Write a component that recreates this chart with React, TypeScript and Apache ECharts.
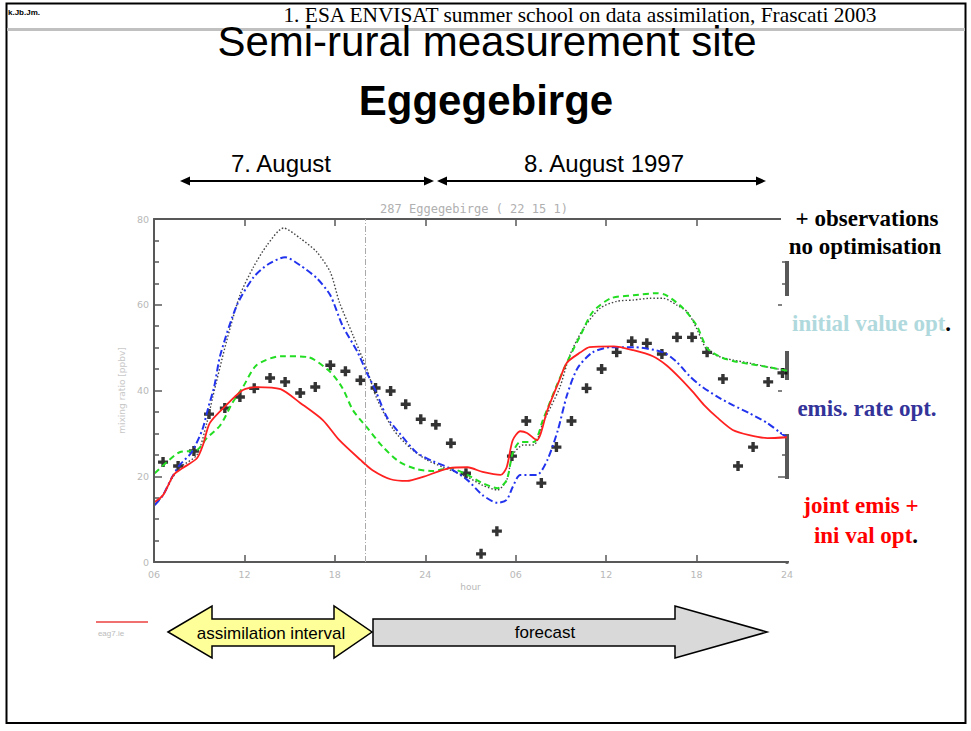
import React, { useEffect, useRef } from "react";
import * as echarts from "echarts";

// ---------- data ----------
const hourLabels = ["06", "12", "18", "24", "06", "12", "18", "24"];
const hourMin = 6;
const hourMax = 48;
const valueMin = 0;
const valueMax = 80;
const assimilationEnd = 20;

const obsHours = [6.6, 7.6, 8.65, 9.65, 10.7, 11.7, 12.65, 13.7, 14.7, 15.7, 16.7, 17.7, 18.7, 19.7, 20.7, 21.7, 22.7, 23.7, 24.7, 25.7, 26.7, 27.7, 28.75, 29.75, 30.7, 31.7, 32.7, 33.7, 34.7, 35.7, 36.7, 37.7, 38.7, 39.7, 40.7, 41.7, 42.7, 43.75, 44.75, 45.75, 46.75, 47.7];
const obsValues = [23.3, 22.4, 25.9, 34.5, 35.9, 38.5, 40.5, 42.9, 42.0, 39.4, 40.8, 45.9, 44.5, 42.4, 40.6, 39.9, 36.8, 33.3, 32.0, 27.7, 20.7, 1.9, 7.2, 24.7, 32.9, 18.4, 26.8, 32.9, 40.5, 45.0, 48.9, 51.5, 51.0, 48.5, 52.4, 52.4, 48.9, 42.7, 22.4, 26.8, 42.0, 44.1];

const noOptHours = [6.05, 6.6, 7.2, 7.7, 8.85, 9.5, 9.9, 10.8, 11.7, 12.6, 13.5, 14.6, 15.7, 16.8, 17.7, 18.3, 19.2, 20.1, 20.8, 21.9, 23.0, 24.1, 25.2, 26.8, 27.8, 28.8, 29.4, 29.8, 30.5, 31.2, 31.8, 32.9, 33.6, 34.5, 35.6, 36.7, 37.8, 38.9, 39.8, 40.7, 41.4, 42.0, 42.7, 43.6, 44.4, 45.5, 46.7, 48];
const noOptValues = [13.3, 15.6, 19.5, 22.0, 25.0, 32.4, 38.5, 51.3, 62.2, 68.8, 73.9, 77.9, 75.5, 72.3, 67.6, 60.6, 52.9, 45.2, 38.0, 30.8, 26.6, 23.8, 22.1, 19.8, 17.9, 16.8, 19.1, 24.9, 27.3, 27.3, 32.4, 40.5, 48.3, 54.5, 59.2, 60.8, 61.1, 61.5, 61.5, 59.9, 58.3, 54.5, 49.4, 47.8, 47.1, 46.4, 45.5, 44.6];

const iniHours = [6.05, 6.85, 7.7, 8.85, 9.5, 10.4, 11.2, 11.9, 12.8, 14.4, 16.2, 17.7, 18.5, 19.2, 20.1, 21.2, 22.3, 23.4, 24.5, 25.6, 26.8, 27.8, 28.8, 29.4, 29.8, 30.3, 31.2, 31.8, 32.7, 33.4, 34.3, 35.1, 36.3, 37.8, 39.4, 40.0, 41.1, 42.0, 42.7, 43.6, 44.4, 45.5, 46.7, 48];
const iniValues = [20.7, 23.3, 25.6, 26.1, 28.9, 31.9, 37.1, 40.8, 45.9, 48.0, 47.8, 44.3, 40.6, 35.4, 31.5, 26.8, 23.3, 21.7, 21.2, 21.9, 20.3, 18.4, 17.2, 19.1, 25.4, 28.0, 28.0, 33.1, 41.0, 46.6, 52.9, 58.3, 61.5, 62.2, 62.7, 62.2, 59.2, 55.2, 49.9, 47.8, 46.9, 46.2, 45.5, 44.6];

const emisHours = [6.05, 6.6, 7.2, 7.7, 8.5, 9.2, 9.6, 10.0, 10.4, 11.5, 12.6, 13.6, 14.7, 15.7, 16.8, 17.7, 18.5, 19.5, 20.1, 20.7, 21.45, 22.3, 23.4, 24.5, 25.6, 26.8, 27.8, 28.8, 29.4, 29.8, 30.3, 31.4, 32.1, 32.8, 33.4, 34.1, 35.1, 36.3, 37.8, 39.8, 40.7, 41.5, 42.2, 43.4, 44.4, 45.5, 46.7, 47.5, 48];
const emisValues = [13.3, 15.6, 19.8, 22.6, 25.6, 30.8, 36.0, 41.0, 48.3, 59.9, 66.4, 69.5, 71.1, 69.2, 66.2, 62.2, 55.2, 49.0, 44.3, 40.0, 33.8, 30.0, 25.6, 23.5, 21.9, 19.1, 15.6, 13.8, 14.5, 17.5, 20.3, 20.3, 23.8, 30.8, 38.9, 45.2, 48.9, 50.1, 50.1, 48.9, 46.6, 43.5, 41.3, 38.5, 36.6, 34.7, 32.4, 30.3, 29.1];

const jointHours = [6.05, 6.6, 7.3, 7.9, 8.85, 9.25, 9.7, 10.8, 11.9, 12.8, 14.4, 15.7, 17.2, 18.3, 19.7, 20.5, 21.7, 22.8, 23.8, 25.6, 26.8, 27.8, 29.0, 29.4, 29.8, 30.3, 30.75, 31.4, 32.1, 32.9, 33.4, 34.3, 34.9, 36.5, 37.8, 39.1, 40.0, 40.9, 41.8, 42.5, 43.4, 44.4, 45.5, 46.7, 48];
const jointValues = [14.0, 15.6, 20.3, 21.9, 24.2, 27.3, 32.4, 36.6, 40.1, 40.8, 40.3, 37.1, 33.1, 28.4, 23.8, 21.4, 19.3, 18.9, 19.8, 21.9, 22.1, 21.0, 20.3, 22.1, 28.4, 30.5, 30.1, 28.4, 35.4, 42.4, 46.5, 48.9, 50.1, 50.3, 49.4, 48.0, 45.9, 42.9, 39.5, 36.6, 33.6, 30.8, 29.6, 28.9, 29.1];

const zip = (h: number[], v: number[]) => h.map((x, i) => [x, v[i]]);

const SERIF = "'Liberation Serif', 'Times New Roman', serif";
const SANS = "'Liberation Sans', Arial, sans-serif";
const PLUS = "path://M3.3,0 L6.7,0 L6.7,3.3 L10,3.3 L10,6.7 L6.7,6.7 L6.7,10 L3.3,10 L3.3,6.7 L0,6.7 L0,3.3 L3.3,3.3 Z";
const AXIS_COLOR = "#585858";

function txt(text: string, x: number, y: number, font: string, fill: string, align = "center", extra: any = {}) {
  return {
    type: "text",
    z: 100,
    style: {
      text, x, y, font, fill,
      align, verticalAlign: "middle",
      textAlign: align, textVerticalAlign: "middle",
      ...extra,
    },
  };
}

function whiteRect(x: number, y: number, w: number, h: number) {
  return { type: "rect", z: 90, shape: { x, y, width: w, height: h }, style: { fill: "#fff" } };
}

const mkLine = (width = 2) => ({ show: true, onZero: false, lineStyle: { color: AXIS_COLOR, width } });
const mkTick = (length: number) => ({ show: true, inside: true, length, lineStyle: { color: AXIS_COLOR, width: 1.5 } });
const mkMinor = () => ({ show: true, splitNumber: 4, length: 5, lineStyle: { color: AXIS_COLOR, width: 1.5 } });

export default function App() {
  const ref = useRef<HTMLDivElement>(null);
  useEffect(() => {
    document.body.style.margin = "0";
    const chart = echarts.init(ref.current!, null, { renderer: "svg" });
    const lblColor = "#b8b8b8";
    const legendFont = `bold 23px ${SERIF}`;
    chart.setOption({
      animation: false,
      backgroundColor: "#fff",
      grid: { left: 154, top: 219, width: 633, height: 343 },
      xAxis: [
        {
          type: "value", min: hourMin, max: hourMax, interval: 6, position: "bottom",
          axisLine: mkLine(), axisTick: mkTick(7),
          axisLabel: { color: lblColor, fontSize: 9.5, margin: 7, fontFamily: "DejaVu Sans",
            formatter: (v: number) => hourLabels[Math.round((v - 6) / 6)] ?? "" },
          splitLine: { show: false },
          name: "hour", nameLocation: "middle", nameGap: 20,
          nameTextStyle: { color: lblColor, fontSize: 9, fontFamily: "DejaVu Sans" },
        },
        {
          type: "value", min: hourMin, max: hourMax, interval: 6, position: "top", show: true,
          axisLine: mkLine(), axisTick: mkTick(7),
          axisLabel: { show: true, color: "rgba(255,255,255,0)", fontSize: 9, formatter: () => "" },
          splitLine: { show: false },
        },
      ],
      yAxis: [
        {
          type: "value", min: valueMin, max: valueMax, interval: 20, position: "left",
          axisLine: mkLine(), axisTick: mkTick(8), minorTick: mkMinor(),
          axisLabel: { color: lblColor, fontSize: 9.5, margin: 5, fontFamily: "DejaVu Sans" },
          splitLine: { show: false },
          name: "mixing ratio [ppbv]", nameLocation: "middle", nameGap: 26, nameRotate: 90,
          nameTextStyle: { color: "#c8c8c8", fontSize: 9, fontFamily: "DejaVu Sans" },
        },
        {
          type: "value", min: valueMin, max: valueMax, interval: 20, position: "right",
          axisLine: mkLine(4), axisTick: mkTick(9), minorTick: mkMinor(),
          axisLabel: { show: false }, splitLine: { show: false },
        },
      ],
      series: [
        {
          // plot frame (top, bottom and left edges of the panel)
          name: "frame", type: "line", data: [], silent: true, showSymbol: false, z: 1,
          markLine: {
            silent: true, symbol: "none", label: { show: false },
            lineStyle: { color: AXIS_COLOR, width: 2, type: "solid" },
            data: [{ yAxis: valueMax }, { yAxis: valueMin }, { xAxis: hourMin }],
          },
        },
        {
          name: "no optimisation", type: "line", data: zip(noOptHours, noOptValues),
          smooth: 0.25, showSymbol: false,
          lineStyle: { color: "#444", width: 1.4, type: [1.5, 2] },
          markLine: {
            silent: true, symbol: "none", label: { show: false },
            lineStyle: { color: "#aaa", width: 1, type: [6, 2, 1, 2] },
            data: [{ xAxis: assimilationEnd }],
          },
        },
        {
          name: "initial value opt.", type: "line", data: zip(iniHours, iniValues),
          smooth: 0.25, showSymbol: false,
          lineStyle: { color: "#22dd22", width: 2, type: [6, 4] },
        },
        {
          name: "emis. rate opt.", type: "line", data: zip(emisHours, emisValues),
          smooth: 0.25, showSymbol: false,
          lineStyle: { color: "#2233ee", width: 2, type: [7, 3, 2, 3] },
        },
        {
          name: "joint emis + ini val opt.", type: "line", data: zip(jointHours, jointValues),
          smooth: 0.25, showSymbol: false,
          lineStyle: { color: "#ff2020", width: 1.8 },
        },
        {
          name: "observations", type: "scatter", data: zip(obsHours, obsValues),
          symbol: PLUS, symbolSize: 10, itemStyle: { color: "#000" },
        },
        {
          name: "upper axis", type: "line", xAxisIndex: 1, yAxisIndex: 1,
          data: [], showSymbol: false, silent: true,
        },
      ],
      graphic: [
        // frame and header
        { type: "rect", z: 100, shape: { x: 6.5, y: 3.5, width: 959, height: 719.5 }, style: { fill: "none", stroke: "#000", lineWidth: 2 } },
        { type: "line", z: 100, shape: { x1: 7, y1: 29.5, x2: 965, y2: 29.5 }, style: { stroke: "#c0c0c0", lineWidth: 3 } },
        txt("k.Jb.Jm.", 8, 12, `bold 8px ${SANS}`, "#000", "left"),
        txt("1. ESA ENVISAT summer school on data assimilation, Frascati 2003", 580, 14.5, `21.4px ${SERIF}`, "#000"),
        txt("Semi-rural measurement site", 487, 41, `42px ${SANS}`, "#000"),
        txt("Eggegebirge", 486, 100, `bold 42px ${SANS}`, "#000"),
        txt("7. August", 281, 163, `24px ${SANS}`, "#000"),
        txt("8. August 1997", 604, 163, `24px ${SANS}`, "#000"),
        // date arrows
        { type: "line", z: 100, shape: { x1: 186, y1: 181, x2: 428, y2: 181 }, style: { stroke: "#000", lineWidth: 2 } },
        { type: "polygon", z: 100, shape: { points: [[180, 181], [190, 176.5], [190, 185.5]] }, style: { fill: "#000" } },
        { type: "polygon", z: 100, shape: { points: [[434, 181], [424, 176.5], [424, 185.5]] }, style: { fill: "#000" } },
        { type: "line", z: 100, shape: { x1: 442, y1: 181, x2: 760, y2: 181 }, style: { stroke: "#000", lineWidth: 2 } },
        { type: "polygon", z: 100, shape: { points: [[437, 181], [447, 176.5], [447, 185.5]] }, style: { fill: "#000" } },
        { type: "polygon", z: 100, shape: { points: [[766, 181], [756, 176.5], [756, 185.5]] }, style: { fill: "#000" } },
        // plot title
        txt("287 Eggegebirge ( 22 15 1)", 474, 209, `12px 'DejaVu Sans Mono', monospace`, "#b0b0b0"),
        // covers over right axis (where the legend texts sit)
        whiteRect(781, 214, 22, 47),
        whiteRect(782, 296, 20, 55),
        whiteRect(782, 380, 20, 54),
        whiteRect(782, 479, 20, 82),
        // legend texts
        txt("+ observations", 867, 218, legendFont, "#000"),
        txt("no optimisation", 865, 246, legendFont, "#000"),
        {
          type: "text", z: 100,
          style: {
            text: "{a|initial value opt}{b|.}", x: 792, y: 323,
            align: "left", verticalAlign: "middle", textAlign: "left", textVerticalAlign: "middle",
            font: legendFont,
            rich: { a: { fill: "#b0d9dd", font: legendFont }, b: { fill: "#000", font: legendFont } },
          },
        },
        txt("emis. rate opt.", 867, 408, legendFont, "#333399"),
        txt("joint emis +", 861, 505, legendFont, "#ff0000"),
        {
          type: "text", z: 100,
          style: {
            text: "{a|ini val opt}{b|.}", x: 866, y: 535,
            align: "center", verticalAlign: "middle", textAlign: "center", textVerticalAlign: "middle",
            font: legendFont,
            rich: { a: { fill: "#ff0000", font: legendFont }, b: { fill: "#000", font: legendFont } },
          },
        },
        // small legend bottom left
        { type: "line", z: 100, shape: { x1: 96, y1: 622, x2: 148, y2: 622 }, style: { stroke: "#f07070", lineWidth: 2 } },
        txt("eag7.ie", 111, 633, `8px ${SANS}`, "#bbb"),
        // assimilation / forecast arrows
        {
          type: "polygon", z: 100,
          shape: { points: [[373, 619], [675, 619], [675, 606], [767, 632], [675, 658], [675, 646], [373, 646]] },
          style: { fill: "#d9d9d9", stroke: "#000", lineWidth: 1.5 },
        },
        {
          type: "polygon", z: 101,
          shape: { points: [[168, 632], [212, 606], [212, 619], [334, 619], [334, 606], [372, 632], [334, 658], [334, 646], [212, 646], [212, 658]] },
          style: { fill: "#ffff99", stroke: "#000", lineWidth: 1.5 },
        },
        { ...txt("assimilation interval", 271, 633, `17px ${SANS}`, "#000"), z: 102 },
        txt("forecast", 545, 632, `17px ${SANS}`, "#000"),
      ],
    });
    return () => chart.dispose();
  }, []);
  return <div ref={ref} style={{ width: 971, height: 731 }} />;
}
